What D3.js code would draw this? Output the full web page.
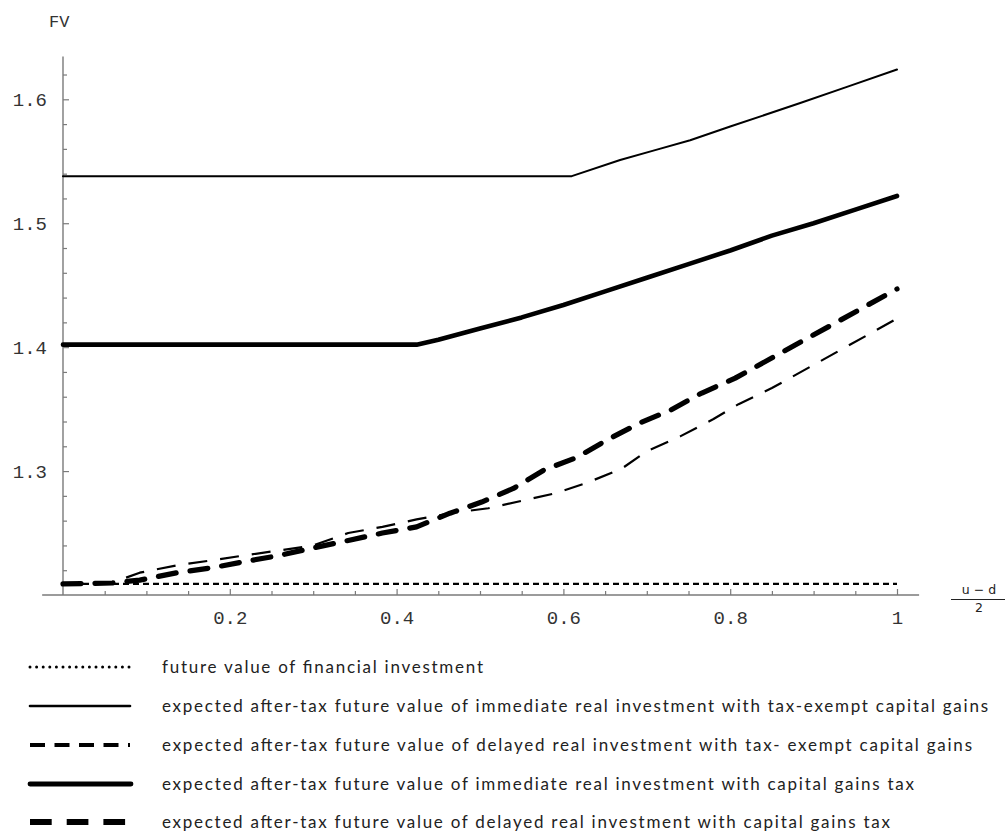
<!DOCTYPE html>
<html>
<head>
<meta charset="utf-8">
<script src="https://cdn.jsdelivr.net/npm/d3@7"></script>
<style>
  html, body { margin: 0; padding: 0; background: #fff; }
  svg { display: block; }
</style>
</head>
<body>
<svg id="chart" width="1005" height="832"></svg>
<script>
// Future value (FV) against (u - d)/2

// financial investment: flat
const financialX = [0, 1];
const financialY = [1.209, 1.209];

// immediate real investment, tax-exempt capital gains
const immExemptX = [0, 0.61, 0.668, 0.71, 0.752, 0.8, 0.884, 0.94, 1];
const immExemptY = [1.538, 1.538, 1.551, 1.559, 1.567, 1.578, 1.597, 1.61, 1.624];

// delayed real investment, tax-exempt capital gains
const delExemptX = [0, 0.059, 0.092, 0.137, 0.179, 0.218, 0.26, 0.30, 0.342, 0.383, 0.424, 0.464, 0.51, 0.55, 0.59, 0.63, 0.67, 0.70, 0.74, 0.78, 0.81, 0.85, 1];
const delExemptY = [1.209, 1.210, 1.218, 1.224, 1.228, 1.232, 1.236, 1.240, 1.250, 1.255, 1.261, 1.266, 1.270, 1.276, 1.282, 1.291, 1.302, 1.316, 1.328, 1.342, 1.354, 1.367, 1.423];

// immediate real investment, capital gains tax
const immTaxX = [0, 0.424, 0.45, 0.5, 0.55, 0.6, 0.65, 0.7, 0.75, 0.8, 0.85, 0.9, 0.95, 1];
const immTaxY = [1.402, 1.402, 1.406, 1.415, 1.424, 1.434, 1.445, 1.456, 1.467, 1.478, 1.49, 1.5, 1.511, 1.522];

// delayed real investment, capital gains tax
const delTaxX = [0, 0.059, 0.092, 0.137, 0.179, 0.218, 0.26, 0.30, 0.342, 0.383, 0.424, 0.464, 0.502, 0.54, 0.577, 0.616, 0.652, 0.692, 0.728, 0.766, 0.806, 1];
const delTaxY = [1.209, 1.2097, 1.212, 1.218, 1.222, 1.227, 1.232, 1.238, 1.244, 1.250, 1.255, 1.266, 1.275, 1.286, 1.301, 1.311, 1.325, 1.339, 1.349, 1.363, 1.375, 1.447];

// axis ticks
const xMajorTicks = [0.2, 0.4, 0.6, 0.8, 1];
const xMajorLabels = ["0.2", "0.4", "0.6", "0.8", "1"];
const xMinorTicks = [0.05, 0.1, 0.15, 0.25, 0.3, 0.35, 0.45, 0.5, 0.55, 0.65, 0.7, 0.75, 0.85, 0.9, 0.95];
const yMajorTicks = [1.3, 1.4, 1.5, 1.6];
const yMajorLabels = ["1.3", "1.4", "1.5", "1.6"];
const yMinorTicks = [1.22, 1.24, 1.26, 1.28, 1.32, 1.34, 1.36, 1.38, 1.42, 1.44, 1.46, 1.48, 1.52, 1.54, 1.56, 1.58, 1.62];

// legend entries
const legendLabels = [
  "future value of financial investment",
  "expected after-tax future value of immediate real investment with tax-exempt capital gains",
  "expected after-tax future value of delayed real investment with tax- exempt capital gains",
  "expected after-tax future value of immediate real investment with capital gains tax",
  "expected after-tax future value of delayed real investment with capital gains tax"
];

const svg = d3.select("#chart");

const x = d3.scaleLinear().domain([0, 1]).range([63, 897]);
const y = d3.scaleLinear().domain([1.2, 1.6]).range([595, 99.3]);

const axisColor = "#7a7a7a";
const monoFont = "'Courier New', 'Liberation Mono', monospace";

// axis lines
svg.append("line")
  .attr("x1", x(0)).attr("x2", x(0))
  .attr("y1", y(1.2)).attr("y2", y(1.6345))
  .attr("stroke", axisColor).attr("stroke-width", 1.4);
svg.append("line")
  .attr("x1", x(-0.025)).attr("x2", x(1.0265))
  .attr("y1", y(1.2)).attr("y2", y(1.2))
  .attr("stroke", axisColor).attr("stroke-width", 1.4);

// y axis: ticks point inward, labels on the left
const yMajorAxis = d3.axisLeft(y).tickValues(yMajorTicks)
  .tickFormat((d, i) => yMajorLabels[i])
  .tickSizeInner(-6).tickSizeOuter(0).tickPadding(16);
const yMinorAxis = d3.axisLeft(y).tickValues(yMinorTicks)
  .tickFormat("").tickSizeInner(-4).tickSizeOuter(0);

const yMaj = svg.append("g").attr("transform", `translate(${x(0)},0)`).call(yMajorAxis);
const yMin = svg.append("g").attr("transform", `translate(${x(0)},0)`).call(yMinorAxis);

// x axis: ticks point upward, labels below
const xMajorAxis = d3.axisBottom(x).tickValues(xMajorTicks)
  .tickFormat((d, i) => xMajorLabels[i])
  .tickSizeInner(-6).tickSizeOuter(0).tickPadding(16);
const xMinorAxis = d3.axisBottom(x).tickValues(xMinorTicks)
  .tickFormat("").tickSizeInner(-4).tickSizeOuter(0);

const xMaj = svg.append("g").attr("transform", `translate(0,${y(1.2)})`).call(xMajorAxis);
const xMin = svg.append("g").attr("transform", `translate(0,${y(1.2)})`).call(xMinorAxis);

[yMaj, yMin, xMaj, xMin].forEach(g => {
  g.select(".domain").remove();
  g.selectAll(".tick line").attr("stroke", axisColor).attr("stroke-width", 1.2);
  g.selectAll(".tick text")
    .attr("fill", "#333")
    .style("font-family", monoFont)
    .style("font-size", "19px");
});

// axis titles
svg.append("text")
  .attr("x", 49).attr("y", 27)
  .attr("fill", "#333")
  .style("font-family", monoFont)
  .style("font-size", "17px")
  .text("FV");

const fracX = 979;
svg.append("text")
  .attr("x", fracX).attr("y", 594)
  .attr("text-anchor", "middle")
  .attr("fill", "#222")
  .style("font-family", "'DejaVu Sans', sans-serif")
  .style("font-size", "12.5px")
  .text("u \u2212 d");
svg.append("line")
  .attr("x1", 951).attr("x2", 1005)
  .attr("y1", 599.5).attr("y2", 599.5)
  .attr("stroke", "#222").attr("stroke-width", 1);
svg.append("text")
  .attr("x", fracX).attr("y", 612)
  .attr("text-anchor", "middle")
  .attr("fill", "#222")
  .style("font-family", "'DejaVu Sans', sans-serif")
  .style("font-size", "12.5px")
  .text("2");

// series
const series = [
  { xs: financialX, ys: financialY, width: 2.4, dash: "6,4", cap: "butt" },
  { xs: immExemptX, ys: immExemptY, width: 2, dash: null, cap: "round" },
  { xs: delExemptX, ys: delExemptY, width: 2.2, dash: "19,13", cap: "butt" },
  { xs: immTaxX, ys: immTaxY, width: 4.6, dash: null, cap: "round" },
  { xs: delTaxX, ys: delTaxY, width: 5.2, dash: "18,14", cap: "round" }
];

const line = d3.line().x(d => x(d[0])).y(d => y(d[1]));

svg.append("g").selectAll("path")
  .data(series)
  .join("path")
  .attr("d", s => line(s.xs.map((v, i) => [v, s.ys[i]])))
  .attr("fill", "none")
  .attr("stroke", "#000")
  .attr("stroke-width", s => s.width)
  .attr("stroke-linecap", s => s.cap)
  .attr("stroke-linejoin", "round")
  .attr("stroke-dasharray", s => s.dash);

// legend
const legendRows = [667, 706, 745, 784, 822];
const legendSwatch = [
  { width: 3, dash: "0,6.6", cap: "round", x1: 30, x2: 130 },
  { width: 2.6, dash: null, cap: "round", x1: 30, x2: 130 },
  { width: 4, dash: "15,9.5", cap: "butt", x1: 30, x2: 130 },
  { width: 4.8, dash: null, cap: "round", x1: 30, x2: 131 },
  { width: 6, dash: "21.7,15", cap: "butt", x1: 30, x2: 126 }
];
const legendWidths = [321, 826, 810, 752, 728];

const legend = svg.append("g");
legendLabels.forEach((label, i) => {
  const s = legendSwatch[i];
  legend.append("line")
    .attr("x1", s.x1).attr("x2", s.x2)
    .attr("y1", legendRows[i]).attr("y2", legendRows[i])
    .attr("stroke", "#000")
    .attr("stroke-width", s.width)
    .attr("stroke-linecap", s.cap)
    .attr("stroke-dasharray", s.dash);
  legend.append("text")
    .attr("x", 162).attr("y", legendRows[i] + 5.5)
    .attr("fill", "#222")
    .attr("textLength", legendWidths[i])
    .attr("lengthAdjust", "spacing")
    .style("font-family", "Lato, 'Open Sans', sans-serif")
    .style("font-size", "17px")
    .text(label);
});
</script>
</body>
</html>
